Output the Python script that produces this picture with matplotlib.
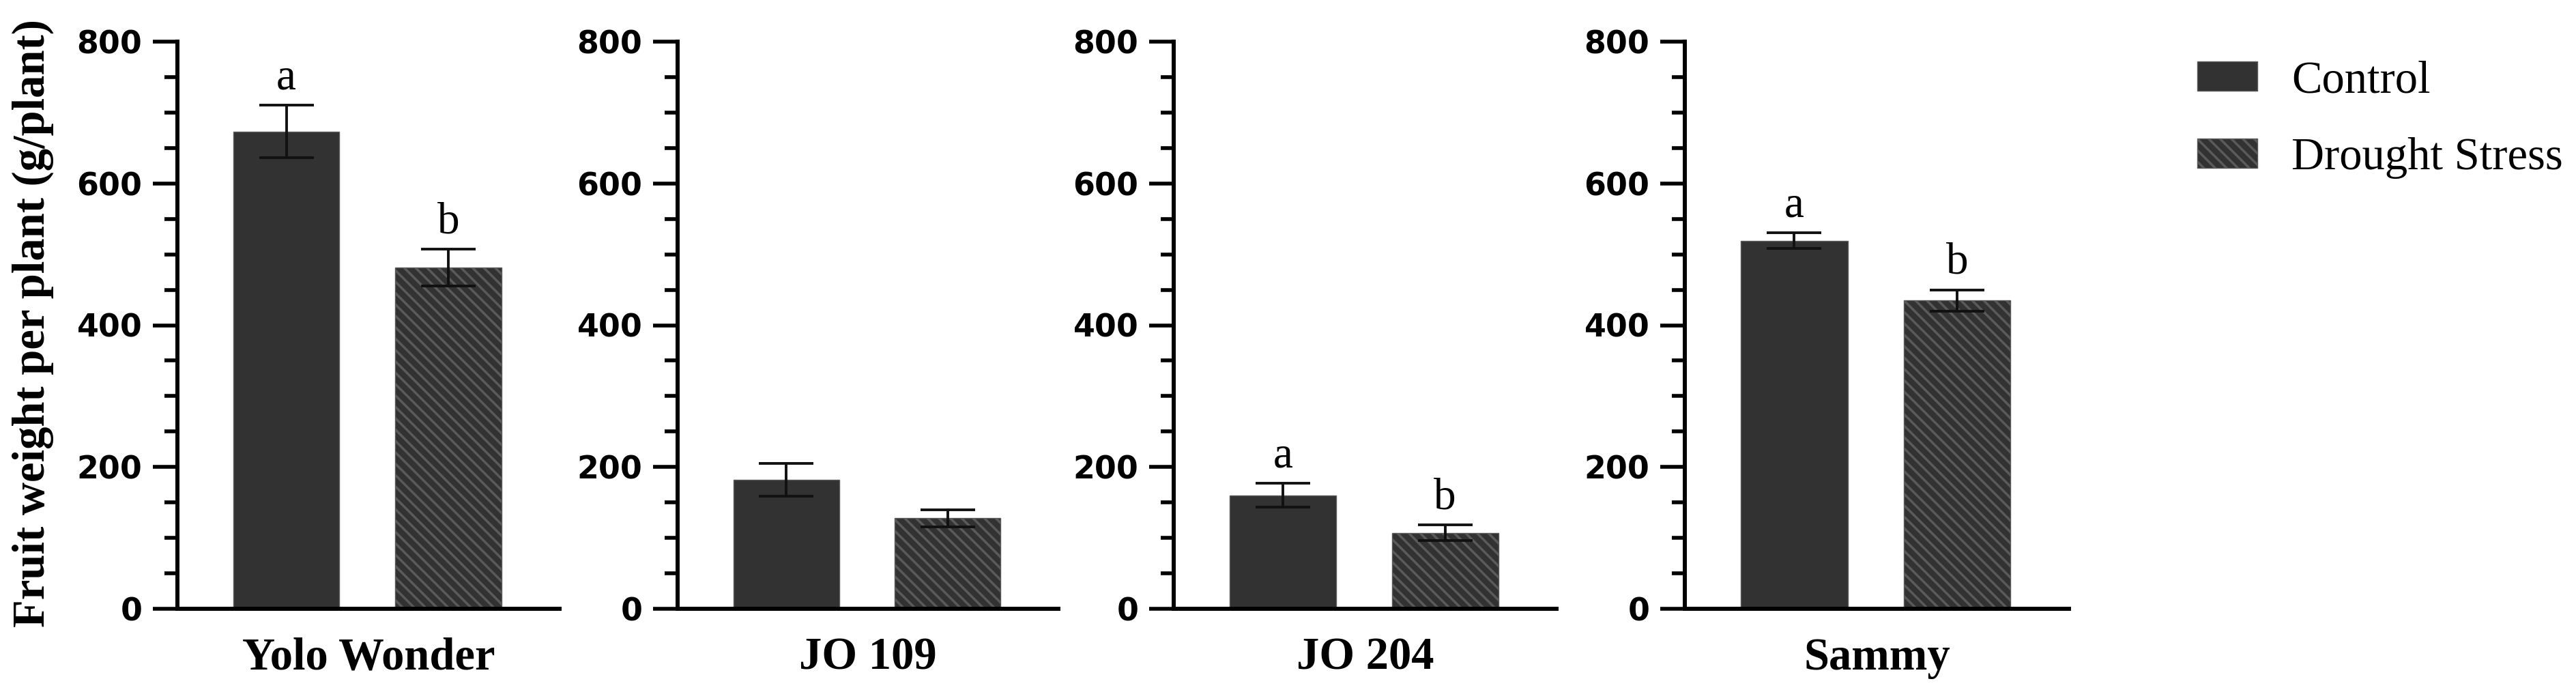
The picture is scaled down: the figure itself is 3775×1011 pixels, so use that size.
import matplotlib
matplotlib.use("Agg")
import matplotlib.pyplot as plt
from matplotlib.patches import Patch
from matplotlib.ticker import MultipleLocator

# data (g/plant)
cultivars = ["Yolo Wonder", "JO 109", "JO 204", "Sammy"]
control_mean = [673, 182, 160, 519]
control_err = [37, 23, 17, 11]
drought_mean = [481, 128, 107, 435]
drought_err = [26, 12, 11, 15]
control_letter = ["a", "", "a", "a"]
drought_letter = ["b", "", "b", "b"]

W, H = 3775, 1011
plt.rcParams['hatch.color'] = '#a8a8a8'
plt.rcParams['hatch.linewidth'] = 2.5

fig = plt.figure(figsize=(W / 100, H / 100), dpi=100)

# axes boxes in pixels: left edge, width
lefts = [260, 993, 1720, 2469]
widths = [560, 558, 561, 563]
top_px, zero_px = 61, 892

bar_face = '#323232'
serif = 'Liberation Serif'

for i, name in enumerate(cultivars):
    ax = fig.add_axes([lefts[i] / W, 1 - zero_px / H, widths[i] / W, (zero_px - top_px) / H])
    ax.bar(0, control_mean[i], width=0.655, color=bar_face, edgecolor='#5a5a5a', linewidth=1)
    ax.bar(1, drought_mean[i], width=0.655, color=bar_face, edgecolor='#5a5a5a', linewidth=1,
           hatch='\\\\')
    ax.errorbar([0, 1], [control_mean[i], drought_mean[i]],
                yerr=[control_err[i], drought_err[i]],
                fmt='none', ecolor='#111111', elinewidth=2.8, capsize=29, capthick=2.8)
    tops = [control_mean[i] + control_err[i], drought_mean[i] + drought_err[i]]
    for x, lab, t in zip([0, 1], [control_letter[i], drought_letter[i]], tops):
        if lab:
            ax.annotate(lab, (x, t), xytext=(0, 17), textcoords='offset points',
                        ha='center', va='baseline', fontsize=47, family=serif)

    ax.set_xlim(-0.672, 1.686)
    ax.set_ylim(0, 800)
    ax.yaxis.set_major_locator(MultipleLocator(200))
    ax.yaxis.set_minor_locator(MultipleLocator(50))
    ax.spines['top'].set_visible(False)
    ax.spines['right'].set_visible(False)
    ax.spines['left'].set_linewidth(4.3)
    ax.spines['bottom'].set_linewidth(4.3)
    ax.tick_params(axis='y', which='major', length=26, width=4, pad=11,
                   labelsize=33)
    ax.tick_params(axis='y', which='minor', length=14, width=4)
    for lbl in ax.get_yticklabels():
        lbl.set_fontweight('bold')
        lbl.set_family('DejaVu Sans')
    ax.set_xticks([])
    ax.set_xlabel(name, fontsize=48, fontweight='bold', family=serif, labelpad=30)

fig.text(48 / W, 1 - 474 / H, "Fruit weight per plant (g/plant)", rotation=90,
         ha='center', va='center', fontsize=48, fontweight='bold', family=serif)

handles = [Patch(facecolor=bar_face, edgecolor='#5a5a5a', label='Control'),
           Patch(facecolor=bar_face, edgecolor='#5a5a5a', hatch='\\\\', label='Drought Stress')]
fig.legend(handles=handles, loc='upper left', bbox_to_anchor=(3220 / W, 1 - 88 / H),
           frameon=False, prop={'family': serif, 'size': 48},
           handlelength=1.32, handleheight=0.63, handletextpad=0.75,
           labelspacing=0.78, borderpad=0, borderaxespad=0)

fig.savefig("out.png", dpi=100)
